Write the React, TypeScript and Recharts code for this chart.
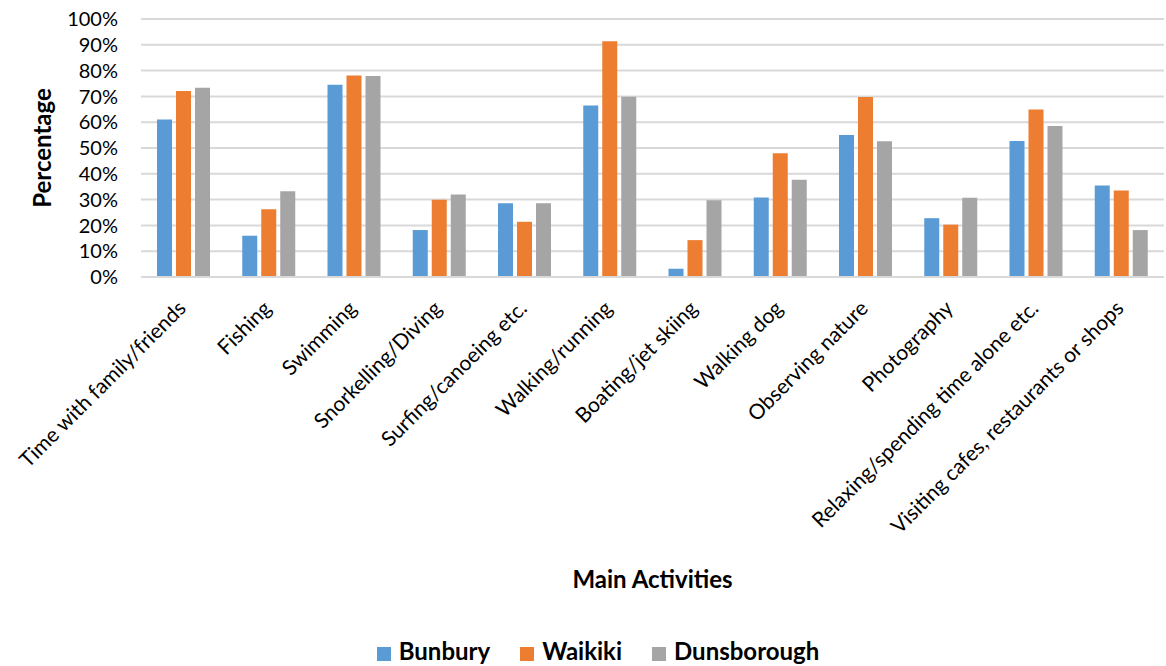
import React from "react";
import { BarChart, Bar, XAxis, YAxis, CartesianGrid, Legend } from "recharts";

const activities = [
  "Time with family/friends",
  "Fishing",
  "Swimming",
  "Snorkelling/Diving",
  "Surfing/canoeing etc.",
  "Walking/running",
  "Boating/jet skiing",
  "Walking dog",
  "Observing nature",
  "Photography",
  "Relaxing/spending time alone etc.",
  "Visiting cafes, restaurants or shops",
];

const bunbury = [61, 16, 74.5, 18.2, 28.6, 66.5, 3.2, 30.8, 55, 22.8, 52.7, 35.5];
const waikiki = [72.1, 26.3, 78.1, 29.9, 21.4, 91.4, 14.3, 48, 69.8, 20.3, 64.9, 33.5];
const dunsborough = [73.4, 33.2, 77.9, 32, 28.6, 69.9, 29.7, 37.7, 52.6, 30.7, 58.5, 18.2];

const yTicks = [0, 10, 20, 30, 40, 50, 60, 70, 80, 90, 100];

const data = activities.map((name, i) => ({
  name,
  Bunbury: bunbury[i],
  Waikiki: waikiki[i],
  Dunsborough: dunsborough[i],
}));

const FONT = "Lato, 'Open Sans', sans-serif";

// category names are written at 45 degrees, ending just under each group
const RotatedTick = (props: any) => {
  const { x, y, payload } = props;
  return (
    <g transform={`translate(${x - 2},${y + 19})`}>
      <text
        x={0}
        y={0}
        dy={8}
        textAnchor="end"
        transform="rotate(-45)"
        fill="#000"
        fontSize={21}
        fontFamily={FONT}
      >
        {payload.value}
      </text>
    </g>
  );
};

export default function App() {
  return (
    <div style={{ position: "absolute", left: 0, top: 0, background: "#fff" }}>
      <BarChart
        width={1166}
        height={666}
        data={data}
        margin={{ top: 19, right: 2, bottom: 0, left: 0 }}
        barGap={4}
        barSize={15}
      >
        <CartesianGrid vertical={false} stroke="#d9d9d9" strokeWidth={2} />
        <XAxis
          dataKey="name"
          interval={0}
          tick={<RotatedTick />}
          tickLine={false}
          axisLine={{ stroke: "#d9d9d9", strokeWidth: 2 }}
          height={359}
          label={{
            value: "Main Activities",
            position: "insideBottom",
            offset: 48,
            style: { fontFamily: FONT, fontWeight: 700, fontSize: 24, fill: "#000" },
          }}
        />
        <YAxis
          domain={[0, 100]}
          ticks={yTicks}
          interval={0}
          tickFormatter={(v: number) => `${v}%`}
          axisLine={false}
          tickLine={false}
          tickMargin={17}
          width={141}
          tick={{ fill: "#000", fontSize: 20, fontFamily: FONT }}
          label={{
            value: "Percentage",
            angle: -90,
            position: "insideLeft",
            offset: 42,
            style: { textAnchor: "middle", fontFamily: FONT, fontWeight: 700, fontSize: 24, fill: "#000" },
          }}
        />
        <Legend
          verticalAlign="bottom"
          height={30}
          iconType="square"
          iconSize={14}
          itemSorter={null}
          wrapperStyle={{ fontFamily: FONT, fontWeight: 700, fontSize: 24, paddingLeft: 0, left: 31 }}
          formatter={(value: string) => <span style={{ color: "#000", marginLeft: 4, marginRight: 20 }}>{value}</span>}
        />
        <Bar dataKey="Bunbury" fill="#5b9bd5" isAnimationActive={false} />
        <Bar dataKey="Waikiki" fill="#ed7d31" isAnimationActive={false} />
        <Bar dataKey="Dunsborough" fill="#a5a5a5" isAnimationActive={false} />
      </BarChart>
    </div>
  );
}
